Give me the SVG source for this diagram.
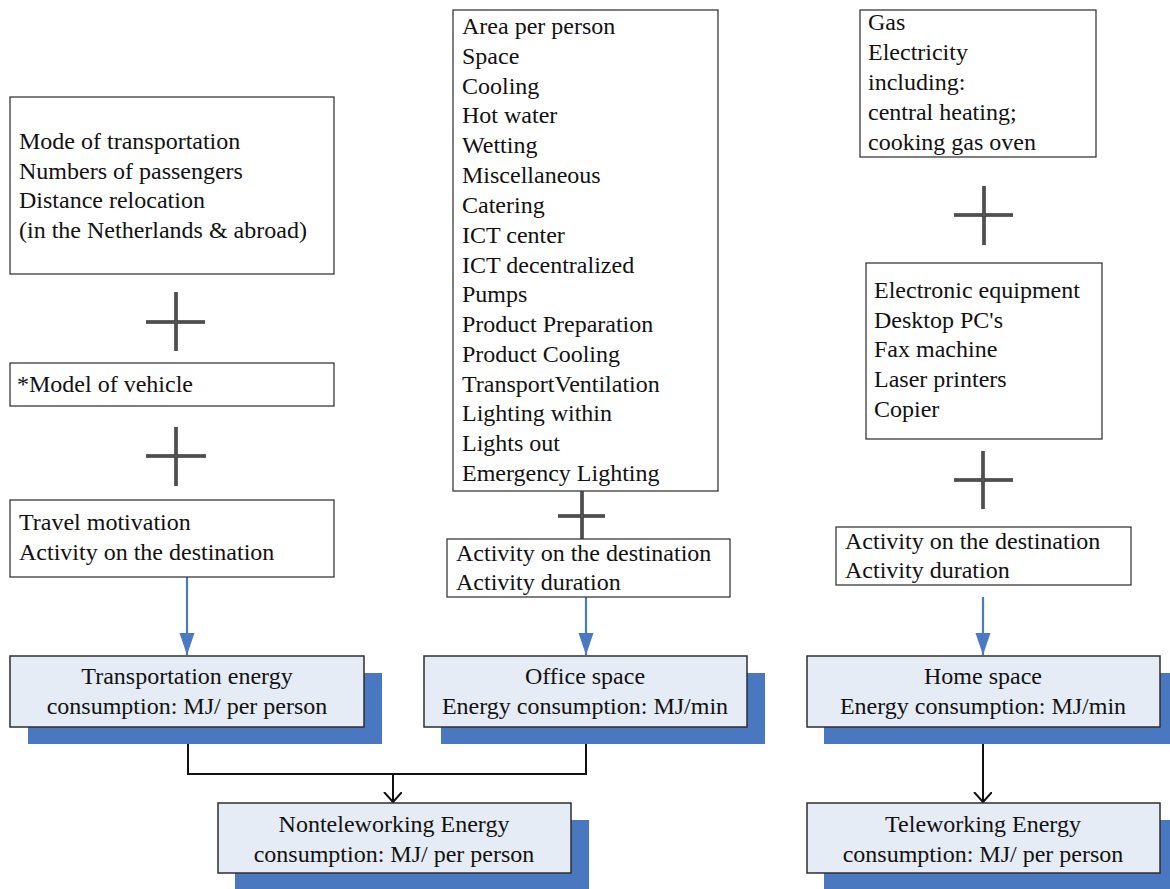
<svg xmlns="http://www.w3.org/2000/svg" width="1170" height="889" viewBox="0 0 1170 889" font-family="Liberation Serif, Times New Roman, DejaVu Serif, serif">
<defs>
<style>
.box{fill:#ffffff;stroke:#3a3a3a;stroke-width:1.3}
.res{fill:#e6ecf6;stroke:#2e2e2e;stroke-width:1.5}
.sh{fill:#4a78c0}
text{font-size:24px;fill:#111}
.c{text-anchor:middle}
.plus{stroke:#333;stroke-width:3.5;fill:none}
.plusi{stroke:#6a6a6a;stroke-width:1;fill:none}
.blue{stroke:#4a7ac2;stroke-width:2.2;fill:none}
.blk{stroke:#111;stroke-width:2;fill:none}
</style>
<marker id="ab" markerWidth="24" markerHeight="16" refX="22" refY="7.5" orient="auto" markerUnits="userSpaceOnUse">
<path d="M0,0 L22,7.5 L0,15 Z" fill="#4a7ac2"/>
</marker>
<marker id="ak" markerWidth="12" markerHeight="20" refX="10" refY="9" orient="auto" markerUnits="userSpaceOnUse">
<path d="M0,0 L10,9 L0,18" fill="none" stroke="#111" stroke-width="2"/>
</marker>
</defs>
<rect width="1170" height="889" fill="#ffffff"/>

<g id="plus-signs">
<path class="plus" d="M176,292 V351 M146,322 H205"/>
<path class="plusi" d="M176,292 V351 M146,322 H205"/>
<path class="plus" d="M176,427 V486 M146,456 H206"/>
<path class="plusi" d="M176,427 V486 M146,456 H206"/>
<path class="plus" d="M582,491 V540 M558,516 H605"/>
<path class="plusi" d="M582,491 V540 M558,516 H605"/>
<path class="plus" d="M984,186 V245 M954,215 H1013"/>
<path class="plusi" d="M984,186 V245 M954,215 H1013"/>
<path class="plus" d="M983,451 V509 M954,480 H1013"/>
<path class="plusi" d="M983,451 V509 M954,480 H1013"/>
</g>

<g id="connectors">
<line class="blue" x1="187" y1="577" x2="187" y2="655" marker-end="url(#ab)"/>
<line class="blue" x1="586" y1="597" x2="586" y2="655" marker-end="url(#ab)"/>
<line class="blue" x1="983" y1="597" x2="983" y2="655" marker-end="url(#ab)"/>
<path class="blk" d="M188,727 V774 H586 V727"/>
<line class="blk" x1="393" y1="774" x2="393" y2="802" marker-end="url(#ak)"/>
<line class="blk" x1="983" y1="727" x2="983" y2="802" marker-end="url(#ak)"/>
</g>

<g id="transport-factors">
<rect class="box" x="10" y="97" width="324" height="177"/>
<text x="19" y="149">Mode of transportation</text>
<text x="19" y="179">Numbers of passengers</text>
<text x="19" y="208">Distance relocation</text>
<text x="19" y="238">(in the Netherlands &amp; abroad)</text>
</g>

<g id="vehicle-model">
<rect class="box" x="10" y="363" width="324" height="43"/>
<text x="17" y="392">*Model of vehicle</text>
</g>

<g id="travel-motivation">
<rect class="box" x="10" y="500" width="324" height="77"/>
<text x="19" y="530">Travel motivation</text>
<text x="19" y="560">Activity on the destination</text>
</g>

<g id="transport-energy">
<rect class="sh" x="28" y="673" width="354" height="71"/>
<rect class="res" x="10" y="656" width="354" height="71"/>
<text class="c" x="187" y="684">Transportation energy</text>
<text class="c" x="187" y="714">consumption: MJ/ per person</text>
</g>

<g id="office-factors">
<rect class="box" x="453" y="10" width="265" height="481"/>
<text x="462" y="34">Area per person</text>
<text x="462" y="64">Space</text>
<text x="462" y="94">Cooling</text>
<text x="462" y="123">Hot water</text>
<text x="462" y="153">Wetting</text>
<text x="462" y="183">Miscellaneous</text>
<text x="462" y="213">Catering</text>
<text x="462" y="243">ICT center</text>
<text x="462" y="273">ICT decentralized</text>
<text x="462" y="302">Pumps</text>
<text x="462" y="332">Product Preparation</text>
<text x="462" y="362">Product Cooling</text>
<text x="462" y="392">TransportVentilation</text>
<text x="462" y="421">Lighting within</text>
<text x="462" y="451">Lights out</text>
<text x="462" y="481">Emergency Lighting</text>
</g>

<g id="office-activity">
<rect class="box" x="447" y="539" width="283" height="58"/>
<text x="456" y="561">Activity on the destination</text>
<text x="456" y="590">Activity duration</text>
</g>

<g id="office-energy">
<rect class="sh" x="441" y="673" width="324" height="71"/>
<rect class="res" x="424" y="656" width="323" height="71"/>
<text class="c" x="585" y="684">Office space</text>
<text class="c" x="585" y="714">Energy consumption: MJ/min</text>
</g>

<g id="nonteleworking-energy">
<rect class="sh" x="235" y="820" width="354" height="69"/>
<rect class="res" x="218" y="803" width="353" height="70"/>
<text class="c" x="394" y="832">Nonteleworking Energy</text>
<text class="c" x="394" y="862">consumption: MJ/ per person</text>
</g>

<g id="home-energy-sources">
<rect class="box" x="860" y="10" width="236" height="147"/>
<text x="868" y="30">Gas</text>
<text x="868" y="60">Electricity</text>
<text x="868" y="90">including:</text>
<text x="868" y="120">central heating;</text>
<text x="868" y="150">cooking gas oven</text>
</g>

<g id="home-equipment">
<rect class="box" x="866" y="263" width="236" height="176"/>
<text x="874" y="298">Electronic equipment</text>
<text x="874" y="328">Desktop PC's</text>
<text x="874" y="357">Fax machine</text>
<text x="874" y="387">Laser printers</text>
<text x="874" y="417">Copier</text>
</g>

<g id="home-activity">
<rect class="box" x="836" y="527" width="295" height="58"/>
<text x="845" y="549">Activity on the destination</text>
<text x="845" y="578">Activity duration</text>
</g>

<g id="home-energy">
<rect class="sh" x="824" y="673" width="350" height="71"/>
<rect class="res" x="807" y="656" width="353" height="71"/>
<text class="c" x="983" y="684">Home space</text>
<text class="c" x="983" y="714">Energy consumption: MJ/min</text>
</g>

<g id="teleworking-energy">
<rect class="sh" x="824" y="820" width="350" height="69"/>
<rect class="res" x="807" y="803" width="353" height="70"/>
<text class="c" x="983" y="832">Teleworking Energy</text>
<text class="c" x="983" y="862">consumption: MJ/ per person</text>
</g>
</svg>
